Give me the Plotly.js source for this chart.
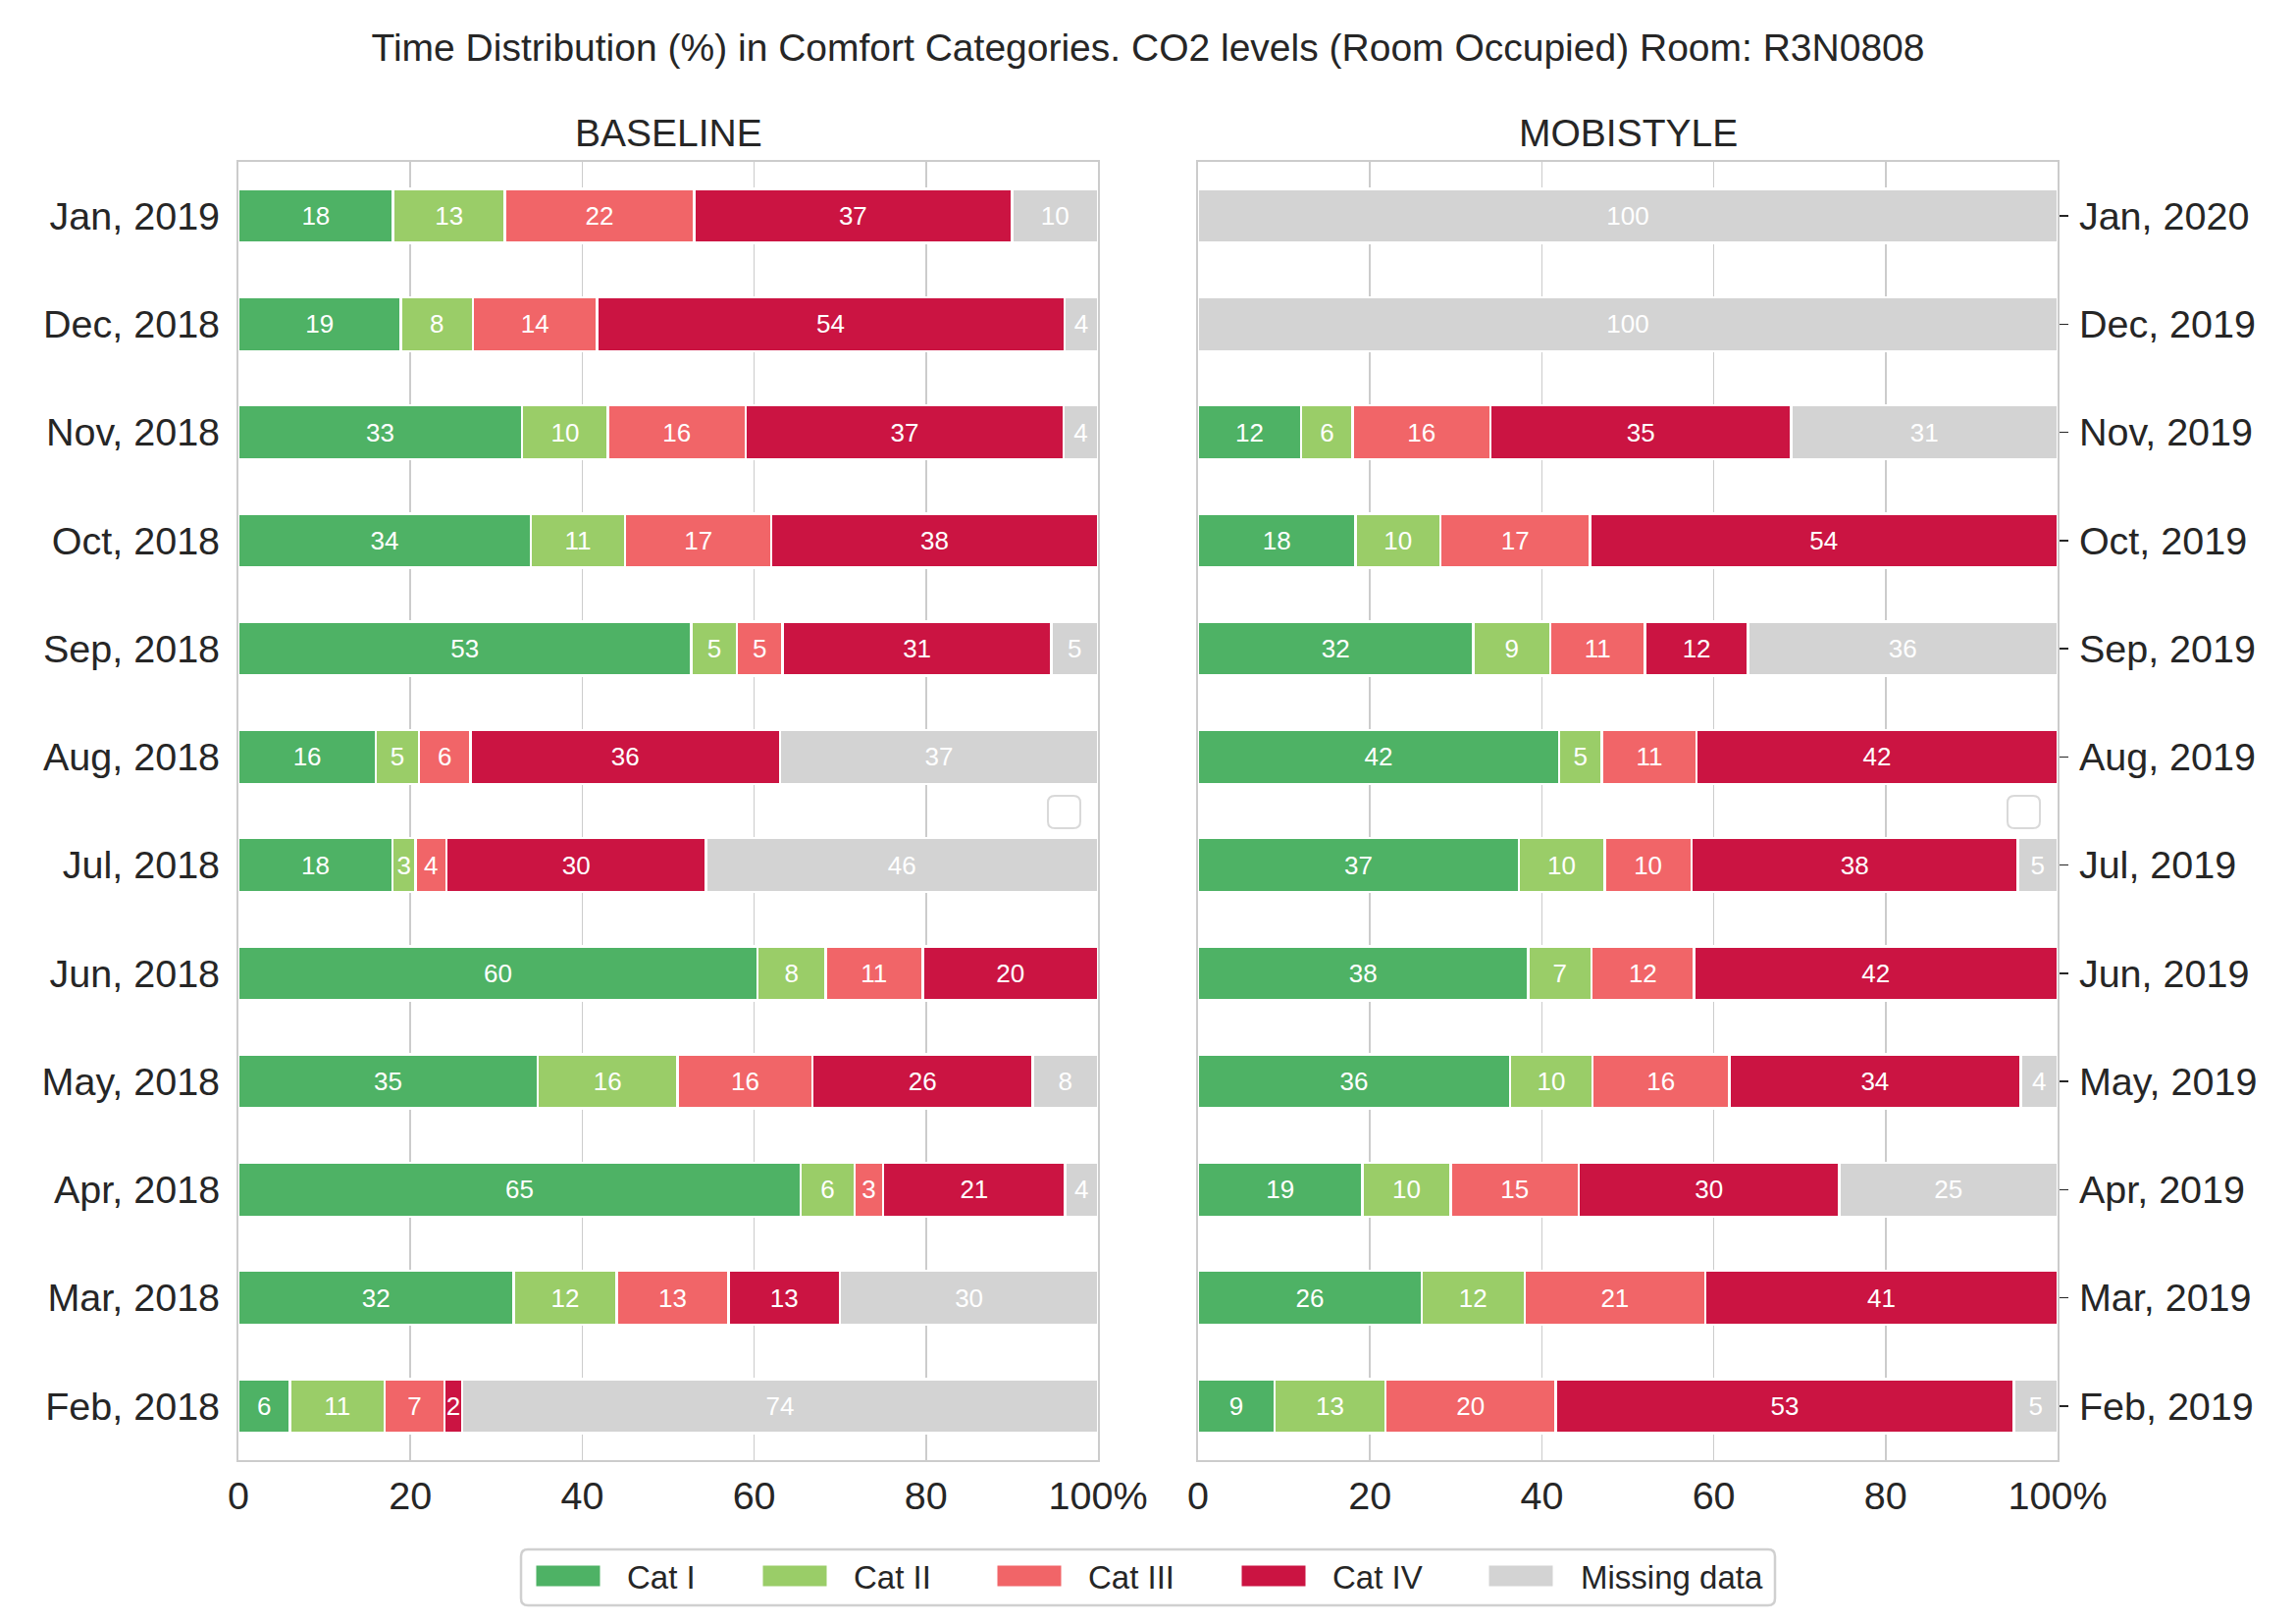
<!DOCTYPE html>
<html>
<head>
<meta charset="utf-8">
<script src="https://cdn.plot.ly/plotly-3.0.1.min.js"></script>
<style>html,body{margin:0;padding:0;background:#fff;}#chart{width:2340px;height:1654px;}</style>
</head>
<body>
<div id="chart"></div>
<script>
// ---- data (bottom row first) ----
var monthsBaseline = ['Feb, 2018','Mar, 2018','Apr, 2018','May, 2018','Jun, 2018','Jul, 2018','Aug, 2018','Sep, 2018','Oct, 2018','Nov, 2018','Dec, 2018','Jan, 2019'];
var monthsMobistyle = ['Feb, 2019','Mar, 2019','Apr, 2019','May, 2019','Jun, 2019','Jul, 2019','Aug, 2019','Sep, 2019','Oct, 2019','Nov, 2019','Dec, 2019','Jan, 2020'];

var categories = ['Cat I','Cat II','Cat III','Cat IV','Missing data'];

var baseCat1 = [6, 32, 65.4, 34.8, 60.4, 17.9, 16, 52.7, 34, 33, 18.9, 18];
var baseCat2 = [11, 12, 6.3, 16.3, 7.9, 2.7, 5, 5.3, 11, 10, 8.4, 13];
var baseCat3 = [7, 13, 3.3, 15.7, 11.3, 3.6, 6, 5.3, 17, 16, 14.4, 22];
var baseCat4 = [2, 13, 21.2, 25.6, 20.4, 30.2, 36, 31.3, 38, 37, 54.4, 37];
var baseMiss = [74, 30, 3.8, 7.6, 0, 45.6, 37, 5.4, 0, 4, 3.9, 10];

var mobCat1 = [8.9, 26, 19.1, 36.3, 38.4, 37.3, 42, 32, 18.3, 12, 0, 0];
var mobCat2 = [12.9, 12, 10.3, 9.6, 7.4, 10.0, 5, 9, 9.9, 6, 0, 0];
var mobCat3 = [19.8, 21, 14.9, 15.9, 11.9, 10.1, 11, 11, 17.4, 16, 0, 0];
var mobCat4 = [53.3, 41, 30.3, 33.9, 42.3, 38.0, 42, 12, 54.4, 35, 0, 0];
var mobMiss = [5.1, 0, 25.4, 4.3, 0, 4.6, 0, 36, 0, 31, 100, 100];

var xTickVals = [0, 20, 40, 60, 80, 100];
var xTickText = ['0', '20', '40', '60', '80', '100%'];

// ---- styling ----
var colors = ['#4EB265', '#9ACD68', '#F16568', '#CB1442', '#D3D3D3'];
var FONT = 'Liberation Sans, Arial, Helvetica, sans-serif';
var TXT = '#262626';
var W = 2340, H = 1654;
function px(x){ return x / W; }
function py(y){ return 1 - y / H; }

function labels(arr){ return arr.map(function(v){ return v > 0 ? v.toFixed(0) : ''; }); }

var baseSeries = [baseCat1, baseCat2, baseCat3, baseCat4, baseMiss];
var mobSeries = [mobCat1, mobCat2, mobCat3, mobCat4, mobMiss];

var traces = [];
function addTraces(series, months, xa, ya){
  series.forEach(function(vals, i){
    traces.push({
      type: 'bar', orientation: 'h',
      x: vals, y: months,
      xaxis: xa, yaxis: ya,
      name: categories[i], legendgroup: categories[i], showlegend: false,
      marker: {color: colors[i], line: {color: '#ffffff', width: 2.5}},
      text: labels(vals), texttemplate: '%{text}',
      textposition: 'inside', insidetextanchor: 'middle', textangle: 0,
      textfont: {color: '#ffffff', size: 26, family: FONT},
      hoverinfo: 'x+y+name'
    });
  });
}
addTraces(baseSeries, monthsBaseline, 'x', 'y');
addTraces(mobSeries, monthsMobistyle, 'x2', 'y2');

var xCommon = {
  range: [0, 100], tickvals: xTickVals, ticktext: xTickText,
  showgrid: true, gridcolor: '#cccccc', gridwidth: 1.5,
  showline: true, linecolor: '#cccccc', linewidth: 2, mirror: true,
  ticks: '', ticklabelstandoff: 1, zeroline: false,
  tickfont: {size: 39.5, color: TXT, family: FONT}, fixedrange: true
};
var yCommon = {
  type: 'category', range: [-0.5, 11.5], showgrid: false,
  showline: true, linecolor: '#cccccc', linewidth: 2, mirror: true,
  zeroline: false, tickfont: {size: 39.5, color: TXT, family: FONT}, fixedrange: true
};

function rrect(x0, y0, x1, y1, r){
  // pixel coords -> paper path with rounded corners
  var rx = r / W, ry = r / H;
  var X0 = px(x0), X1 = px(x1), Y0 = py(y0), Y1 = py(y1);
  return 'M' + (X0+rx) + ',' + Y0 + ' L' + (X1-rx) + ',' + Y0 + ' Q' + X1 + ',' + Y0 + ' ' + X1 + ',' + (Y0-ry) +
         ' L' + X1 + ',' + (Y1+ry) + ' Q' + X1 + ',' + Y1 + ' ' + (X1-rx) + ',' + Y1 +
         ' L' + (X0+rx) + ',' + Y1 + ' Q' + X0 + ',' + Y1 + ' ' + X0 + ',' + (Y1+ry) +
         ' L' + X0 + ',' + (Y0-ry) + ' Q' + X0 + ',' + Y0 + ' ' + (X0+rx) + ',' + Y0 + ' Z';
}

var shapes = [
  {type: 'path', xref: 'paper', yref: 'paper', path: rrect(1068, 811, 1101, 844, 7),
   line: {color: '#d9d9d9', width: 2}, fillcolor: 'rgba(255,255,255,0.8)', layer: 'above'},
  {type: 'path', xref: 'paper', yref: 'paper', path: rrect(2046, 811, 2079, 844, 7),
   line: {color: '#d9d9d9', width: 2}, fillcolor: 'rgba(255,255,255,0.8)', layer: 'above'},
  // legend frame
  {type: 'path', xref: 'paper', yref: 'paper', path: rrect(531, 1579, 1809, 1636, 7),
   line: {color: '#d0d0d0', width: 2.5}, fillcolor: '#ffffff', layer: 'above'}
];

var annotations = [
  {text: 'BASELINE', xref: 'paper', yref: 'paper', x: px(681), y: py(136),
   xanchor: 'center', yanchor: 'middle', showarrow: false, font: {size: 39, color: TXT, family: FONT}},
  {text: 'MOBISTYLE', xref: 'paper', yref: 'paper', x: px(1659), y: py(136),
   xanchor: 'center', yanchor: 'middle', showarrow: false, font: {size: 39, color: TXT, family: FONT}}
];

// legend entries (positions are layout only)
var swatchX = [546, 777, 1016, 1265, 1517];
var textX = [637, 868, 1107, 1356, 1609];
categories.forEach(function(c, i){
  shapes.push({type: 'rect', xref: 'paper', yref: 'paper',
    x0: px(swatchX[i]), x1: px(swatchX[i] + 66), y0: py(1617), y1: py(1595),
    fillcolor: colors[i], line: {color: '#ffffff', width: 1}, layer: 'above'});
  annotations.push({text: c, xref: 'paper', yref: 'paper', x: px(textX[i]), y: py(1607),
    xanchor: 'left', yanchor: 'middle', showarrow: false,
    font: {size: 33, color: TXT, family: FONT}});
});

var layout = {
  width: W, height: H,
  margin: {l: 0, r: 0, t: 0, b: 0, pad: 0},
  paper_bgcolor: '#ffffff', plot_bgcolor: '#ffffff',
  font: {family: FONT, color: TXT},
  barmode: 'stack', bargap: 0.5,
  showlegend: false,
  title: {
    text: 'Time Distribution (%) in Comfort Categories. CO2 levels (Room Occupied) Room: R3N0808',
    font: {size: 39, color: TXT, family: FONT},
    x: 0.5, xanchor: 'center', xref: 'paper',
    y: py(48), yanchor: 'middle', yref: 'paper'
  },
  xaxis: Object.assign({}, xCommon, {domain: [px(243), px(1119)], anchor: 'y'}),
  yaxis: Object.assign({}, yCommon, {domain: [py(1488), py(165)], anchor: 'x', side: 'left',
    categoryorder: 'array', categoryarray: monthsBaseline, ticks: '', ticklabelstandoff: 9}),
  xaxis2: Object.assign({}, xCommon, {domain: [px(1221), px(2097)], anchor: 'y2'}),
  yaxis2: Object.assign({}, yCommon, {domain: [py(1488), py(165)], anchor: 'x2', side: 'right',
    categoryorder: 'array', categoryarray: monthsMobistyle,
    ticks: 'outside', ticklen: 9, tickwidth: 1.5, tickcolor: TXT, ticklabelstandoff: 3}),
  annotations: annotations,
  shapes: shapes,
  uniformtext: {mode: 'show', minsize: 26}
};

Plotly.newPlot('chart', traces, layout, {displayModeBar: false, staticPlot: true});
</script>
</body>
</html>
